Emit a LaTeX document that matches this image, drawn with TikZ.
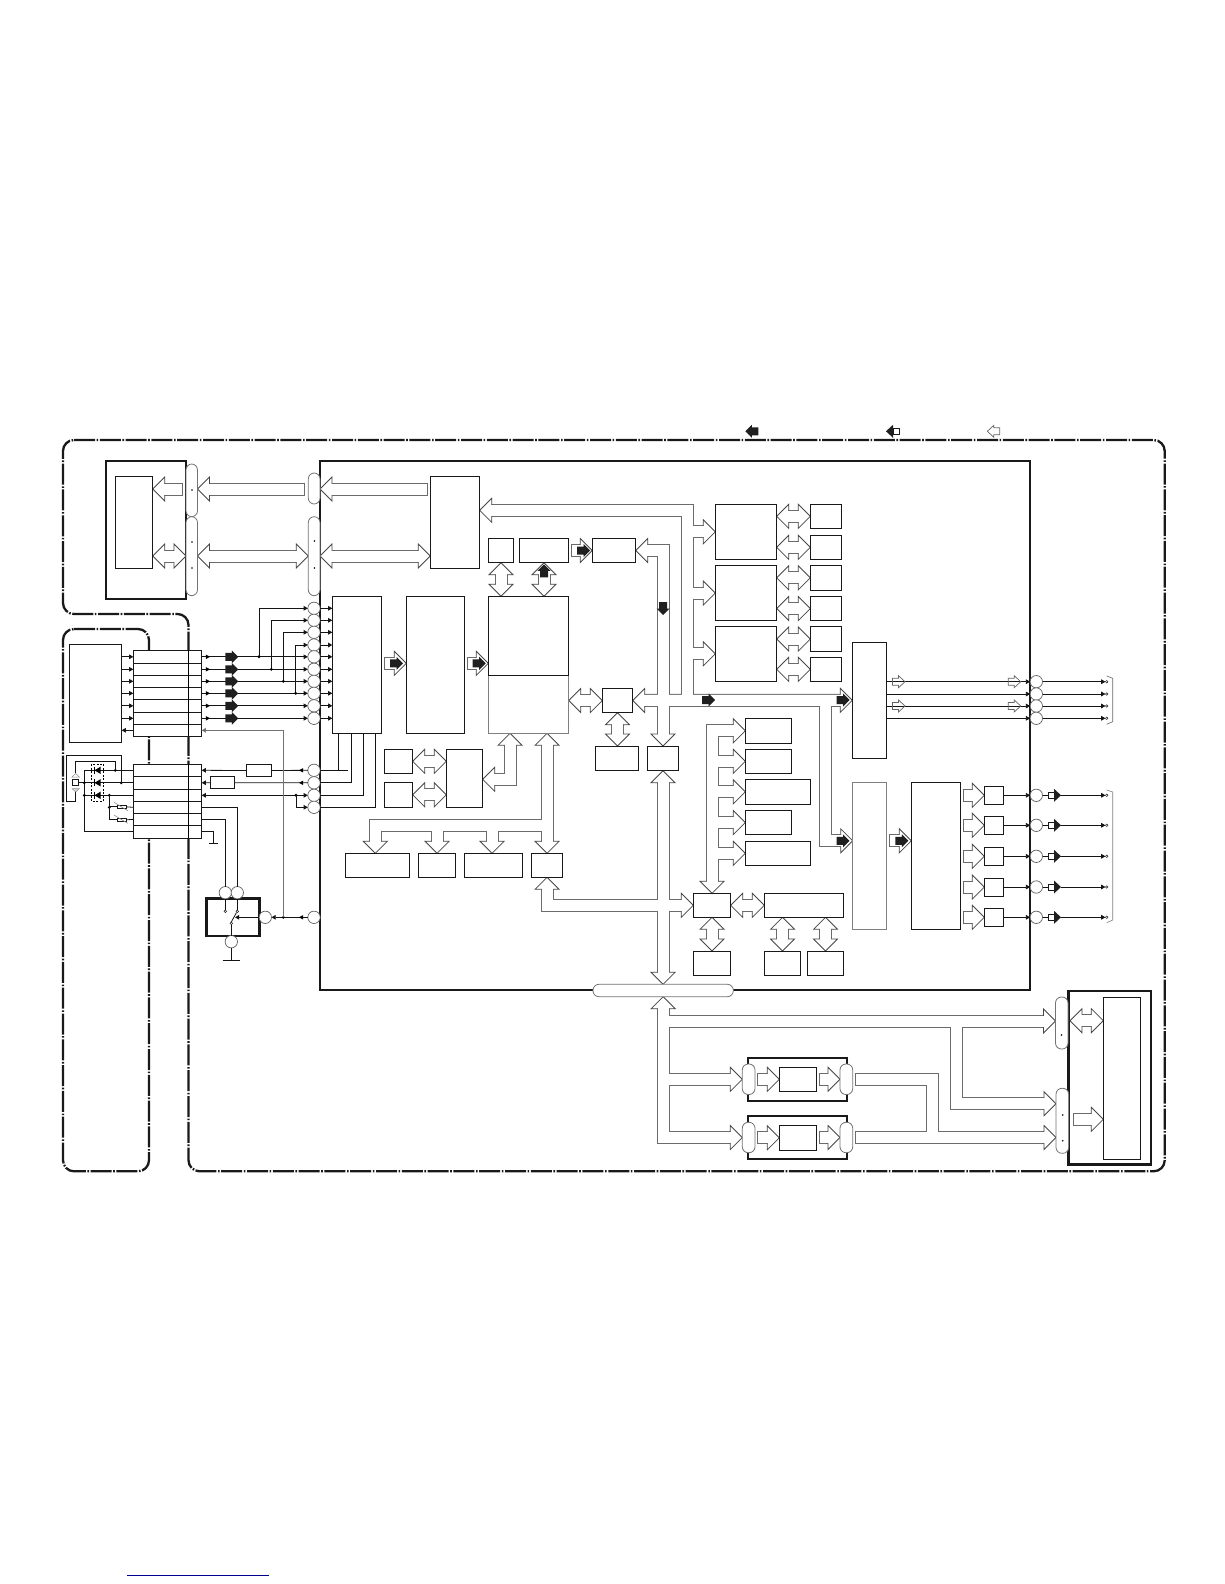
\documentclass[tikz,border=0pt]{standalone}
\usetikzlibrary{calc,arrows.meta}
\pgfdeclarelayer{back}\pgfdeclarelayer{sgray}\pgfdeclarelayer{hd}\pgfdeclarelayer{swhite}
\pgfsetlayers{back,sgray,hd,swhite,main}
\colorlet{edge}{black!72}
\tikzset{
 framer/.style={line width=2.3pt,draw=black!90,rounded corners=11pt,dash pattern=on 21pt off 1.6pt on 1.6pt off 1.6pt},
 plainbox/.style={draw=black!90,fill=white,line width=.8pt,inner sep=0pt,outer sep=0pt},
 graybox/.style={plainbox,draw=black!50},
 heavybox/.style={plainbox,line width=2.9pt,draw=black!90},
 medbox/.style={plainbox,line width=2.2pt,draw=black!90},
 cellbox/.style={plainbox},
 pill/.style={plainbox,draw=black!55,rounded corners=5.9pt},
 circ/.style={circle,draw=black!62,fill=white,line width=.7pt,inner sep=0pt,outer sep=0pt,minimum size=12.4pt},
 term/.style={circle,draw=black!85,fill=white,line width=.5pt,inner sep=0pt,outer sep=0pt,minimum size=2.6pt},
 sqr/.style={plainbox,minimum size=6pt},
 wire/.style={line width=.8pt,draw=black!92},
 wirea/.style={wire,-{Triangle[length=4.2pt,width=4.6pt]}},
 wireb/.style={wire,{Triangle[length=4.2pt,width=4.6pt]}-{Triangle[length=4.2pt,width=4.6pt]}},
 graywire/.style={wire,draw=black!55},
 dashbox/.style={line width=.6pt,draw=black,dash pattern=on 2pt off 1.5pt},
 fatg/.style={line width=13pt,draw=black!58},
 fatw/.style={line width=11pt,draw=white},
 fathead/.style={draw=edge,fill=white,line width=.8pt,line join=miter},
 blacky/.style={fill=black!88,draw=none},
 dotty/.style={fill=black,draw=none},
}
% box by corners
\newcommand\bx[6][plainbox]{\node[#1,minimum width={(#5-#3)*1pt},minimum height={(#6-#4)*1pt}] (#2) at ({(#3+#5)/2},{(#4+#6)/2}) {};}
% hollow head: from, tip
\newcommand\fhead[2]{%
 \coordinate (zfrom) at (#1);\coordinate (ztip) at (#2);
 \coordinate (zbase) at ($(ztip)!12pt!(zfrom)$);
 \begin{pgfonlayer}{hd}
 \path[fathead] (ztip) -- ($(zbase)!12pt!90:(ztip)$) -- ($(zbase)!12pt!-90:(ztip)$) -- cycle;
 \end{pgfonlayer}}
% bus: #1 leading points with trailing --, #2 last corner, #3 tip
\newcommand\fbus[3]{%
 \fhead{#2}{#3}%
 \coordinate (zin) at ($(ztip)!11pt!(zfrom)$);
 \begin{pgfonlayer}{sgray}\draw[fatg] #1 (zfrom) -- (zin);\end{pgfonlayer}
 \begin{pgfonlayer}{swhite}\draw[fatw,shorten <=1pt] #1 (zfrom) -- (zin);\end{pgfonlayer}}
% bus without a head
\newcommand\fplain[1]{%
 \begin{pgfonlayer}{sgray}\draw[fatg] #1;\end{pgfonlayer}
 \begin{pgfonlayer}{swhite}\draw[fatw,shorten <=1pt] #1;\end{pgfonlayer}}
% double-headed straight arrow
\newcommand\fdbl[2]{%
 \fhead{#2}{#1}\coordinate (zaa) at ($(ztip)!11pt!(zfrom)$);
 \fhead{#1}{#2}\coordinate (zbb) at ($(ztip)!11pt!(zfrom)$);
 \begin{pgfonlayer}{sgray}\draw[fatg] (zaa) -- (zbb);\end{pgfonlayer}
 \begin{pgfonlayer}{swhite}\draw[fatw] (zaa) -- (zbb);\end{pgfonlayer}}
% solid black arrow: tip x, y, angle
\newcommand\blk[3]{\fill[blacky,shift={(#1,#2)},rotate=#3] (0,0) -- (-6.5,-6.5) -- (-6.5,-4) -- (-13,-4) -- (-13,4) -- (-6.5,4) -- (-6.5,6.5) -- cycle;}
% hollow small arrow
\newcommand\hol[3]{\draw[draw=black!60,line width=.7pt,shift={(#1,#2)},rotate=#3] (0,0) -- (-6.5,-6) -- (-6.5,-3.5) -- (-12.5,-3.5) -- (-12.5,3.5) -- (-6.5,3.5) -- (-6.5,6) -- cycle;}
% small wire head
\newcommand\sa[3]{\fill[black,shift={(#1,#2)},rotate=#3] (0,0) -- (-4.2,-2.3) -- (-4.2,2.3) -- cycle;}
\newcommand\jd[2]{\fill[dotty] (#1,#2) circle (1.6pt);}
\newcommand\pd[2]{\fill[dotty] (#1,#2) circle (.9pt);}
\begin{document}
\begin{tikzpicture}[x=1pt,y=-1pt]
\useasboundingbox (0,0) rectangle (1224,1584);
\begin{pgfonlayer}{back}
 \draw[framer] (63,440) -- (1164.7,440) -- (1164.7,1171.3) -- (188.5,1171.3) -- (188.5,614) -- (63,614) -- cycle;
 \draw[framer] (63,629) -- (149,629) -- (149,1171.3) -- (63,1171.3) -- cycle;
 \bx[heavybox]{mOne}{106}{461}{186}{599}
 \bx[heavybox]{mainb}{320}{461}{1030}{990}
 \bx[medbox]{mFive}{748.3}{1057.7}{847.3}{1101}
 \bx[medbox]{mSix}{748.3}{1116}{847.3}{1158.7}
 \bx[heavybox]{mRight}{1068.3}{991}{1151}{1164.7}
\end{pgfonlayer}
% legend
\blk{745.3}{431.3}{180}
\fill[blacky] (886,431.3) -- (893,424.8) -- (893,437.8) -- cycle;
\node[sqr] (legsq) at (896,431.3) {};
\draw[draw=black!60,fill=white,line width=.7pt,shift={(987.3,431.3)},rotate=180] (0,0) -- (-6.5,-6) -- (-6.5,-3.5) -- (-12.5,-3.5) -- (-12.5,3.5) -- (-6.5,3.5) -- (-6.5,6) -- cycle;
\draw[line width=1.1pt,draw=blue!55!black] (127.3,1575.3) -- (269,1575.3);
% boxes top-left
\bx{mOneI}{115.3}{476.3}{152.7}{568.3}
\bx[pill]{pA}{186}{464}{197.5}{516.7}
\bx[pill]{pB}{186}{516.7}{197.5}{595.7}
\bx[pill]{pC}{308.3}{473}{320}{504}
\bx[pill]{pD}{308.3}{516.7}{320}{595.7}
\pd{192}{490}\pd{192}{542}\pd{192}{568}\pd{314.5}{541}\pd{314.5}{568}
\bx{C}{430.3}{476.3}{479.7}{568.3}
\fbus{}{182.7,489}{mOneI.east |- 0,489}
\fbus{}{305.3,489}{pA.east |- 0,489}
\fbus{}{427.7,489}{pC.east |- 0,489}
\fdbl{mOneI.east |- 0,556}{mOne.east |- 0,556}
\fdbl{pB.east |- 0,556}{pD.west |- 0,556}
\fdbl{pD.east |- 0,556}{C.west |- 0,556}
% signal chain
\bx{Done}{332.3}{596.3}{381.7}{733.3}
\bx{Dtwo}{406.3}{596.3}{464.7}{733.3}
\bx[graybox]{Dthl}{488.3}{675.7}{568.7}{733.3}
\bx{Dthu}{488.3}{596.3}{568.7}{675.7}
\bx{Eone}{488.3}{538.3}{513.7}{562.7}
\bx{Etwo}{519.3}{538.3}{568.7}{562.7}
\bx{Ethr}{592.3}{538.3}{635.7}{562.7}
\fbus{}{384.3,663.3}{Dtwo.west |- 0,663.3}
\fbus{}{467.3,663.3}{Dthu.west |- 0,663.3}
\fdbl{Eone.south}{Eone.south |- Dthu.north}
\fdbl{Etwo.south}{Etwo.south |- Dthu.north}
\fbus{}{571.3,0 |- Ethr.west}{Ethr.west}
% F and V
\bx{Fone}{715.3}{504.3}{776.7}{559.3}
\bx{Ftwo}{715.3}{565.3}{776.7}{620.7}
\bx{Fthr}{715.3}{626.3}{776.7}{681.3}
\bx{Va}{810.3}{504.3}{841.7}{528.3}
\bx{Vb}{810.3}{535.3}{841.7}{559.3}
\bx{Vc}{810.3}{565.3}{841.7}{590.3}
\bx{Vd}{810.3}{596.3}{841.7}{620.7}
\bx{Ve}{810.3}{626.3}{841.7}{651.7}
\bx{Vf}{810.3}{657.3}{841.7}{681.3}
\foreach \v/\f in {Va/Fone,Vb/Fone,Vc/Ftwo,Vd/Ftwo,Ve/Fthr,Vf/Fthr}{\fdbl{\f.east |- \v.west}{\v.west}}
\fbus{(687.5,700) --}{687.5,510.3}{C.east |- 0,510.3}
\foreach \f in {Fone,Ftwo,Fthr}{\fbus{}{687.5,0 |- \f.west}{\f.west}}
% centre
\bx{H}{602.3}{688.3}{632.7}{712.7}
\bx{K}{595.3}{746}{638.3}{770.7}
\bx{I}{647.3}{746}{678.7}{770.7}
\bx{G}{852.3}{642.3}{886.7}{758.3}
\bx[graybox]{J}{852.7}{782.3}{886.7}{929.3}
\bx{W}{911.3}{782.3}{960.7}{929.3}
\fhead{663,0 |- Ethr.east}{Ethr.east}
\fbus{($(Ethr.east)+(10,0)$) --}{663,0 |- Ethr.east}{I.north}
\fdbl{H.east}{G.west}
\fbus{(825.5,700) --}{825.5,840.8}{J.west |- 0,840.8}
\fbus{}{889.3,840.8}{W.west |- 0,840.8}
\fdbl{Dthl.east |- H.west}{H.west}
\fdbl{H.south}{H.south |- K.north}
% lower centre
\bx{M}{693.3}{893.3}{730.7}{917.3}
\bx{N}{764.3}{893.3}{843.7}{917.3}
\bx{O}{693.3}{951}{730.7}{975.7}
\bx{P}{764.3}{951}{800.7}{975.7}
\bx{Q}{807.3}{951}{843.7}{975.7}
\bx[pill]{pillb}{593}{984.3}{733.3}{996.7}
\fdbl{I.south}{I.south |- pillb.north}
\fdbl{M.east}{N.west}
\fdbl{M.south}{O.north}
\fdbl{P.north |- N.south}{P.north}
\fdbl{Q.north |- N.south}{Q.north}
\bx{Ra}{745.3}{718.3}{791.7}{743.3}
\bx{Rb}{745.3}{749.3}{791.7}{773.3}
\bx{Rc}{745.3}{779.3}{810.7}{804.3}
\bx{Rd}{745.3}{810.3}{791.7}{834.7}
\bx{Re}{745.3}{841.3}{810.7}{865.3}
\fhead{M.north |- Ra.west}{Ra.west}
\fbus{($(Ra.west)+(-10,0)$) --}{M.north |- Ra.west}{M.north}
\foreach \r in {Rb,Rc,Rd,Re}{\fbus{}{M.north |- \r.west}{\r.west}}
% left lower buses
\bx{Tone}{384.3}{749.3}{412.7}{773.3}
\bx{Ttwo}{384.3}{782.3}{412.7}{807.3}
\bx{S}{446.3}{749.3}{482.7}{807.3}
\fdbl{Tone.east}{S.west |- Tone.east}
\fdbl{Ttwo.east}{S.west |- Ttwo.east}
\fhead{510,779.3}{510,0 |- Dthl.south}
\fbus{(510,743.3) --}{510,779.3}{S.east |- 0,779.3}
\bx{Ua}{345.3}{853.3}{409.7}{877.3}
\bx{Ub}{418.3}{853.3}{455.7}{877.3}
\bx{Uc}{464.3}{853.3}{522.7}{877.3}
\bx{L}{531.3}{853.3}{562.7}{877.3}
\fdbl{L.north |- Dthl.south}{L.north}
\fbus{(L.north |- 0,825) --}{375.3,825}{375.3,0 |- Ua.north}
\fbus{}{Ub.north |- 0,825}{Ub.north}
\fbus{}{492,825}{492,0 |- Uc.north}
\fhead{M.west -| L.south}{L.south}
\fbus{(L.south |- 0,887) -- (L.south |- M.west) --}{663,0 |- M.west}{M.west}
% bottom right
\bx{mFiveI}{779.3}{1067.3}{816.7}{1091.3}
\bx{mSixI}{779.3}{1125.3}{816.7}{1150.3}
\bx[pill]{qAl}{742.3}{1064}{755}{1094.5}
\bx[pill]{qAr}{840}{1064}{852.7}{1094.5}
\bx[pill]{qBl}{742.3}{1122.3}{755}{1152.7}
\bx[pill]{qBr}{840}{1122.3}{852.7}{1152.7}
\bx{mRI}{1103.3}{997.5}{1140.3}{1159.3}
\bx[pill]{pU}{1055.5}{997}{1068}{1049}
\bx[pill]{pL}{1056}{1088.3}{1068.7}{1153.3}
\pd{1061.5}{1035}\pd{1062.7}{1115}\pd{1062.7}{1140.7}
\fhead{pillb.south |- 0,1021}{pillb.south}
\fbus{(pillb.south |- 0,1006.7) --}{pillb.south |- qBl.west}{qBl.west}
\fbus{}{pillb.south |- qAl.west}{qAl.west}
\fbus{}{pillb.south |- 0,1021}{pU.west |- 0,1021}
\fbus{(956.8,1021) --}{956.8,1103.7}{pL.west |- 0,1103.7}
\fbus{}{757.3,0 |- mFiveI.west}{mFiveI.west}
\fbus{}{819.3,0 |- qAr.west}{qAr.west}
\fbus{}{757.3,0 |- mSixI.west}{mSixI.west}
\fbus{}{819.3,0 |- qBr.west}{qBr.west}
\fplain{($(qAr.east)+(2.7,0)$) -- (932.6,0 |- qAr.east) -- (932.6,0 |- qBr.east)}
\fbus{}{$(qBr.east)+(2.7,0)$}{pL.west |- qBr.east}
\fdbl{1070,1020.7}{mRI.west |- 0,1020.7}
\fbus{}{1073.4,1119.3}{mRI.west |- 0,1119.3}
% outputs G
\foreach \y/\n in {681.7/a,694/b,706/c,718.3/d}{
 \node[circ] (g\n) at (1036.3,\y) {};
 \node[term] (gt\n) at (1106.7,\y) {};
 \draw[wirea] (G.east |- g\n.west) -- (g\n.west);
 \draw[wirea] (g\n.east) -- (gt\n.west);
}
\hol{905}{681.7}{0}\hol{1020.7}{681.7}{0}\hol{905}{706}{0}\hol{1020.7}{706}{0}
\draw[line width=.6pt,draw=black!60] (1106.7,676) -- (1112.7,678.3) -- (1112.7,721.7) -- (1106.7,724.3);
% outputs W
\foreach \y/\n in {795.3/a,825.3/b,856.3/c,887/d,917.3/e}{
 \bx{X\n}{984.3}{(\y-9)}{1003.7}{(\y+9)}
 \fbus{}{962.7,0 |- X\n.west}{X\n.west}
 \node[circ] (h\n) at (1036.3,\y) {};
 \node[sqr] (hs\n) at (1051.3,\y) {};
 \node[term] (ht\n) at (1106.7,\y) {};
 \coordinate (hp\n) at (1061,\y);
 \draw[wirea] (X\n.east) -- (h\n.west);
 \draw[wire] (h\n.east) -- (hs\n.west);
 \fill[blacky] (hp\n) -- ++(-7,-6.5) -- ++(0,13) -- cycle;
 \draw[wirea] (hp\n) -- (ht\n.west);
}
\draw[line width=.6pt,draw=black!50] (1106.7,790) -- (1112.7,792) -- (1112.7,920) -- (1106.7,922.7);
% left blocks
\bx{Y}{69.3}{644.3}{121.7}{742.3}
\bx[cellbox]{ra}{133.3}{650.3}{201.7}{663.3}
\bx[cellbox]{rb}{133.3}{663.3}{201.7}{675.3}
\bx[cellbox]{rc}{133.3}{675.3}{201.7}{687.3}
\bx[cellbox]{rd}{133.3}{687.3}{201.7}{699.3}
\bx[cellbox]{re}{133.3}{699.3}{201.7}{712.3}
\bx[cellbox]{rf}{133.3}{712.3}{201.7}{724.3}
\bx[cellbox]{rg}{133.3}{724.3}{201.7}{736.3}
\draw[line width=.8pt] (188.7,650.3) -- (188.7,736.3);
\bx[cellbox]{sa}{133.3}{764.3}{201.7}{776.3}
\bx[cellbox]{sb}{133.3}{776.3}{201.7}{789.3}
\bx[cellbox]{sc}{133.3}{789.3}{201.7}{801.3}
\bx[cellbox]{sd}{133.3}{801.3}{201.7}{813.3}
\bx[cellbox]{se}{133.3}{813.3}{201.7}{825.3}
\bx[cellbox]{sf}{133.3}{825.3}{201.7}{838.3}
\draw[line width=.8pt] (188.7,764.3) -- (188.7,838.3);
% circles column
\foreach \y/\n in {608.3/1,620.3/2,632.3/3,645/4,656.8/5,669.3/6,681.3/7,693.3/8,705.8/9,718.3/10}{
 \node[circ] (c\n) at (314,\y) {};
 \draw[wirea] (c\n.east) -- (Done.west |- c\n.east);
}
\foreach \r/\n/\y in {ra/5/656.8,rb/6/669.3,rc/7/681.3,rd/8/693.3,re/9/705.8,rf/10/718.3}{
 \draw[wirea] (Y.east |- \r.west) -- (\r.west);
 \draw[wirea] (\r.east) -- (c\n.west);
 \sa{210}{\y}{0}
}
\draw[wirea] (rg.west) -- (Y.east |- rg.west);
\foreach \x/\r/\n in {259/ra/1,271.3/rb/2,283.3/rc/3,295.7/rd/4}{
 \draw[wirea] (\x,0 |- \r.east) -- (\x,0 |- c\n.west) -- (c\n.west);
 \fill[dotty] (\x,0 |- \r.east) circle (1.6pt);
}
\foreach \y in {656.8,669.3,681.3,693.3,705.8,718.3}{\blk{238.3}{\y}{0}}
% second block wires
\foreach \y/\n in {770.3/a,782.8/b,795.3/c,807.3/d}{\node[circ] (k\n) at (314,\y) {};}
\bx{resA}{246.7}{764.3}{271.7}{776.7}
\bx{resB}{210.3}{776.7}{234.7}{788.7}
\draw[wire] (ka.west) -- (resA.east);
\draw[wirea] (resA.west) -- (sa.east);
\sa{299}{770.3}{180}
\draw[wire] (kb.west) -- (resB.east);
\draw[wirea] (resB.west) -- (sb.east);
\sa{299}{782.8}{180}
\draw[wireb] (sc.east) -- (kc.west);
\jd{296}{795.3}
\draw[wirea] (296,795.3) -- (296,807.3) -- (kd.west);
\draw[wire] (ka.east) -- (347.7,770.3);
\draw[wire] (338.7,770.3) -- (338.7,0 |- Done.south);
\draw[wire] (kb.east) -- (351.7,0 |- kb.east) -- (351.7,0 |- Done.south);
\draw[wire] (kc.east) -- (363.7,0 |- kc.east) -- (363.7,0 |- Done.south);
\draw[wire] (kd.east) -- (375.7,0 |- kd.east) -- (375.7,0 |- Done.south);
% relay
\bx[heavybox]{relay}{206.7}{898.7}{259.3}{936}
\node[circ] (ca) at (225.3,892.7) {};
\node[circ] (cb) at (237.3,892.7) {};
\node[circ] (cg) at (231.3,941.7) {};
\node[circ] (cr) at (265.3,917.3) {};
\node[circ] (cm) at (314,917.3) {};
\node[term] (ta) at (225.3,911.3) {};
\node[term] (tb) at (237.3,911.3) {};
\node[term] (tp) at (231.3,923.3) {};
\draw[wire] (sd.east) -- (cb.north |- sd.east) -- (cb.north);
\draw[wire] (se.east) -- (ca.north |- se.east) -- (ca.north);
\draw[wire] (sf.east) -- (213.3,0 |- sf.east) -- (213.3,843.3);
\draw[wire] (209,843.3) -- (217.7,843.3);
\draw[wire] (ca.south) -- (ta.north);
\draw[wire] (cb.south) -- (tb.north);
\draw[wire] (tp.north) -- (236.5,912.5);
\draw[wire] (tp.south) -- (cg.north);
\draw[wire] (cg.south) -- (231.3,960);
\draw[wire] (222.7,960) -- (240,960);
\draw[wirea] (cr.west) -- (235,917.3);
\draw[wirea] (cm.west) -- (cr.east);
\sa{299}{917.3}{180}
\jd{283.3}{917.3}
\coordinate (jrel) at (283.3,917.3);
\draw[graywire,-{Triangle[length=4.2pt,width=4.6pt]}] (jrel) -- (jrel |- rg.east) -- (rg.east);
% diode cluster
\draw[dashbox] (91.7,764) rectangle (103.3,801.3);
\node[sqr] (led) at (75.5,782.8) {};
\draw[wire] (84.3,770.3) -- (84.3,0 |- sf.west) -- (sf.west);
\draw[wire] (84.3,0 |- sa.west) -- (sa.west);
\draw[wire] (led.east) -- (sb.west);
\draw[wire] (84.3,0 |- sc.west) -- (sc.west);
\foreach \y in {770.3,782.8,795.3}{
 \fill[black] (94.5,\y) -- (100.5,\y-3.6) -- (100.5,\y+3.6) -- cycle;
 \draw[line width=.9pt] (94.5,\y-3.6) -- (94.5,\y+3.6);
}
\jd{84.3}{782.8}\jd{84.3}{795.3}
\jd{115.3}{770.3}\jd{121.3}{782.8}
\draw[wire] (115.3,770.3) -- (115.3,761.7) -- (75.7,761.7) -- (75.7,773.3);
\draw[wire] (121.3,782.8) -- (121.3,755.3) -- (66.3,755.3) -- (66.3,801.3) -- (75.7,801.3) -- (75.7,791);
\draw[draw=black!45,fill=white,line width=.5pt] (75.7,773.5) -- (72,777) -- (79.4,777) -- cycle;
\draw[draw=black!45,fill=black!15,line width=.5pt] (75.7,792) -- (72,788.5) -- (79.4,788.5) -- cycle;
\jd{109.3}{795.3}\jd{109.3}{807.3}
\bx{thA}{117.3}{805}{126.7}{808.7}
\bx{thB}{117.3}{818}{126.7}{821.7}
\draw[wire] (109.3,795.3) -- (109.3,0 |- thB.west) -- (thB.west);
\draw[wire] (109.3,0 |- thA.west) -- (thA.west);
\draw[wire] (thA.east) -- (sd.west);
\draw[wire] (thB.east) -- (se.west);
\draw[line width=.6pt,draw=black!45] (114,802.3) -- (127.7,810.7);
\draw[line width=.6pt,draw=black!45] (114,815) -- (127.7,823.3);
% black arrows inside hollow ones
\blk{403}{663.3}{0}
\blk{485.7}{663.3}{0}
\blk{544}{564.3}{90}
\blk{590}{550.5}{0}
\blk{663}{615}{270}
\blk{715}{700}{0}
\blk{849.5}{700}{0}
\blk{849.5}{840.8}{0}
\blk{908.3}{840.8}{0}
\end{tikzpicture}
\end{document}
